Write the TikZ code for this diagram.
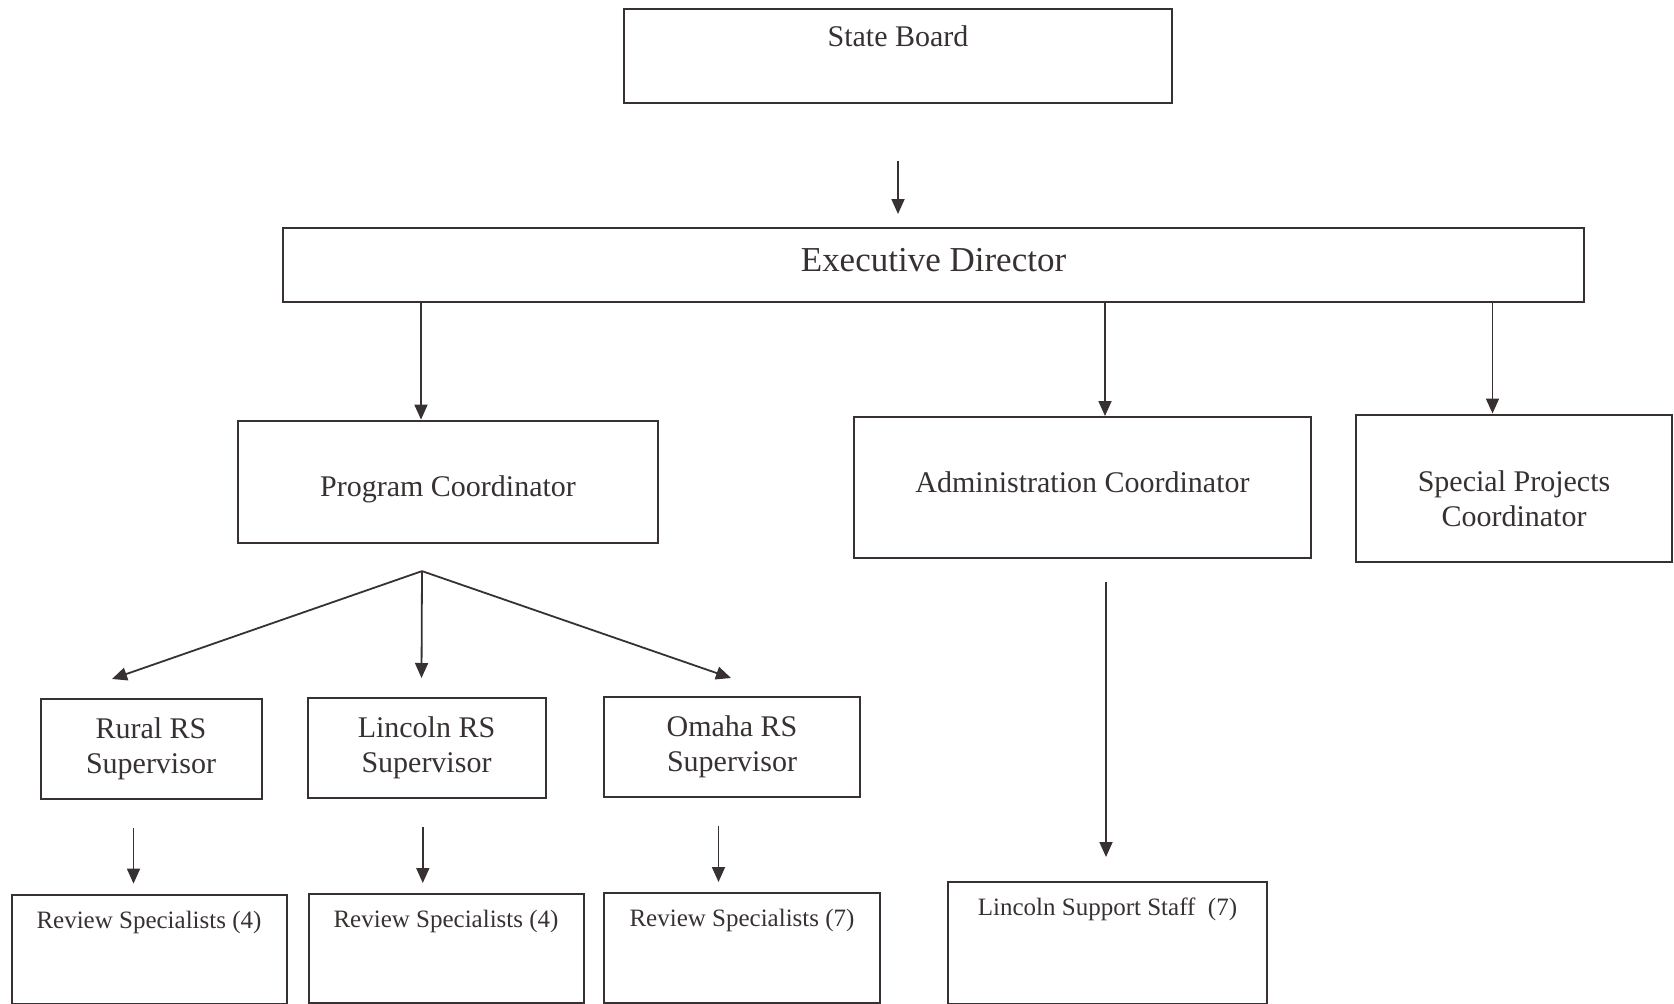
\documentclass[tikz,border=0pt]{standalone}
\usepackage{fontspec}
\setmainfont{Liberation Serif}
\usetikzlibrary{arrows.meta}
\definecolor{ink}{RGB}{55,49,49}
\begin{document}
\begin{tikzpicture}[x=1pt,y=-1pt,
	font=\fontsize{30}{35}\selectfont,
	box/.style={draw=ink,line width=2pt,inner sep=0pt,text=ink,align=center},
	petit/.style={font=\fontsize{25}{30}\selectfont},
	fleche/.style={draw=ink,line width=1.8pt,-{Triangle[length=15pt,width=13pt]}}]
	% Cadre de l'image
	\useasboundingbox (0,0) rectangle (1674,1004);
	% Direction
	\node[box,anchor=north,minimum width=548pt,text height=38pt,text depth=56pt] (board) at (898,7.5) {State Board};
	\node[box,anchor=north,minimum width=1301pt,text height=43.5pt,text depth=30.5pt,font=\fontsize{35}{40}\selectfont] (exec) at (933.5,227) {Executive Director};
	% Coordinateurs
	\node[box,anchor=north,minimum width=420pt,text height=75.5pt,text depth=47pt] (pc) at (448,419.6) {Program Coordinator};
	\node[box,anchor=north,minimum width=457pt,text height=75.5pt,text depth=65.5pt] (adm) at (1082.5,416) {Administration Coordinator};
	\node[box,minimum width=316pt,minimum height=147pt] (spc) at (1514,488) {\raisebox{-20pt}[0pt][0pt]{\begin{tabular}{@{}c@{}}Special Projects\\Coordinator\end{tabular}}};
	% Superviseurs
	\node[box,minimum width=221pt,minimum height=100pt] (rural) at (151,749) {Rural RS\\Supervisor};
	\node[box,minimum width=238pt,minimum height=100pt] (lin) at (426.5,748) {Lincoln RS\\Supervisor};
	\node[box,minimum width=256pt,minimum height=100pt] (oma) at (732,747) {Omaha RS\\Supervisor};
	% Specialistes et personnel
	\node[box,petit,anchor=north,minimum width=275pt,text height=33.4pt,text depth=76pt] (rev1) at (149,893.6) {Review Specialists (4)};
	\node[box,petit,anchor=north,minimum width=275pt,text height=33.4pt,text depth=76pt] (rev2) at (446,893) {Review Specialists (4)};
	\node[box,petit,anchor=north,minimum width=276pt,text height=33.4pt,text depth=77pt] (rev3) at (742,892) {Review Specialists (7)};
	\node[box,petit,anchor=north,minimum width=319pt,text height=33.3pt,text depth=89pt] (staff) at (1107.5,881) {Lincoln Support Staff~~(7)};
	% Points d'arrivee des fleches
	\coordinate (pcin) at ([xshift=-27pt]pc.north);
	\coordinate (adin) at ([xshift=22.5pt]adm.north);
	\coordinate (spin) at ([xshift=-21.5pt]spc.north);
	\coordinate (fork) at ([xshift=-26pt,yshift=-27pt]pc.south);
	\coordinate (rin) at ([xshift=-39pt,yshift=19pt]rural.north);
	\coordinate (lin-in) at ([xshift=-5pt,yshift=19pt]lin.north);
	\coordinate (oin) at ([xshift=-1pt,yshift=18pt]oma.north);
	% Fleches
	\draw[fleche,shorten <=57pt,shorten >=13pt] (board.south) -- (board.south |- exec.north);
	\draw[fleche] (pcin |- exec.south) -- (pcin);
	\draw[fleche] (adin |- exec.south) -- (adin);
	\draw[fleche] (spin |- exec.south) -- (spin);
	\draw[fleche] (fork) -- (rin);
	\draw[fleche] (fork) -- (lin-in);
	\draw[fleche] (fork) -- (oin);
	\draw[fleche,shorten <=28pt,shorten >=10pt] ([xshift=-17.5pt]rural.south) -- ([xshift=-17.5pt]rural.south |- rev1.north);
	\draw[fleche,shorten <=28pt,shorten >=10pt] ([xshift=-3.7pt]lin.south) -- ([xshift=-3.7pt]lin.south |- rev2.north);
	\draw[fleche,shorten <=28pt,shorten >=10pt] ([xshift=-13.5pt]oma.south) -- ([xshift=-13.5pt]oma.south |- rev3.north);
	\draw[fleche,shorten <=23pt,shorten >=24pt] ([xshift=23.5pt]adm.south) -- ([xshift=23.5pt]adm.south |- staff.north);
\end{tikzpicture}
\end{document}
